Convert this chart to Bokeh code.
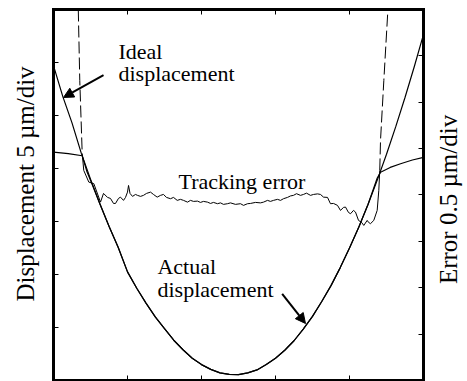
from bokeh.plotting import figure
from bokeh.models import Range1d, LinearAxis, FixedTicker, Label, Arrow, NormalHead
from bokeh.embed import file_html
from bokeh.resources import INLINE

# Horizontal position, in divisions (5 divisions across)
ideal_x = [0.0, 0.125, 0.25, 0.375, 0.5, 0.625, 0.75, 0.875, 1.0, 1.125, 1.25, 1.375,
           1.5, 1.625, 1.75, 1.875, 2.0, 2.125, 2.25, 2.375, 2.5, 2.625, 2.75, 2.875,
           3.0, 3.125, 3.25, 3.375, 3.5, 3.625, 3.75, 3.875, 4.0, 4.125, 4.25, 4.375,
           4.5, 4.625, 4.75, 4.875, 5.0]
# Ideal displacement, um
ideal_um = [29.7, 26.8, 24.3, 21.45, 19.0, 16.7, 14.55, 12.55, 10.25, 8.7, 7.3, 6.0,
            4.9, 3.8, 2.9, 2.1, 1.5, 1.05, 0.72, 0.57, 0.55, 0.72, 1.0, 1.5,
            2.1, 2.85, 3.75, 4.85, 6.05, 7.45, 8.95, 10.65, 12.5, 14.45, 16.6, 18.9,
            21.35, 23.95, 26.7, 29.6, 32.65]

# Actual displacement, um (saturates at both ends)
actual_x = [0.0, 0.2, 0.388, 0.45, 0.5, 0.625, 0.75, 0.875, 1.0, 1.125, 1.25, 1.375,
            1.5, 1.625, 1.75, 1.875, 2.0, 2.125, 2.25, 2.375, 2.5, 2.625, 2.75, 2.875,
            3.0, 3.125, 3.25, 3.375, 3.5, 3.625, 3.75, 3.875, 4.0, 4.125, 4.25, 4.375,
            4.42, 4.55, 4.69, 4.85, 5.0]
actual_um = [21.55, 21.4, 21.2, 19.75, 18.9, 16.7, 14.55, 12.55, 10.25, 8.7, 7.3, 6.0,
             4.9, 3.8, 2.9, 2.1, 1.5, 1.05, 0.72, 0.57, 0.55, 0.72, 1.0, 1.5,
             2.1, 2.85, 3.75, 4.85, 6.05, 7.45, 8.95, 10.65, 12.5, 14.45, 16.6, 19.1,
             19.65, 20.1, 20.45, 20.8, 21.05]

# Tracking error, um (right-hand scale)
error_x = [0.335, 0.355, 0.388, 0.409, 0.477, 0.545, 0.635, 0.676, 0.730, 0.770, 0.811,
           0.838, 0.878, 0.905, 0.946, 0.973, 1.000, 1.014, 1.034, 1.068, 1.108, 1.135,
           1.176, 1.216, 1.257, 1.311, 1.351, 1.401, 1.446, 1.486, 1.527, 1.581, 1.622,
           1.672, 1.716, 1.757, 1.811, 1.851, 1.892, 1.946, 1.986, 2.027, 2.081, 2.122,
           2.162, 2.216, 2.257, 2.297, 2.351, 2.392, 2.459, 2.527, 2.568, 2.622, 2.662,
           2.730, 2.797, 2.838, 2.892, 2.932, 2.973, 3.027, 3.068, 3.108, 3.162, 3.203,
           3.243, 3.284, 3.338, 3.378, 3.419, 3.473, 3.514, 3.568, 3.608, 3.649, 3.703,
           3.743, 3.784, 3.838, 3.878, 3.919, 3.946, 3.986, 4.014, 4.054, 4.081, 4.122,
           4.162, 4.193, 4.239, 4.257, 4.284, 4.328, 4.374, 4.396, 4.409, 4.419, 4.464,
           4.519]
error_um = [2.0, 1.235, 0.448, 0.265, 0.139, 0.122, -0.077, 0.017, -0.026, -0.037, -0.091,
            -0.091, -0.037, -0.023, -0.058, -0.026, 0.031, 0.103, 0.017, -0.015, 0.006, -0.004,
            -0.015, -0.004, 0.017, 0.031, 0.006, -0.023, -0.004, 0.006, -0.026, -0.040, -0.026,
            -0.058, -0.047, -0.058, -0.077, -0.058, -0.069, -0.066, -0.080, -0.069, -0.077, -0.091,
            -0.080, -0.094, -0.085, -0.101, -0.094, -0.085, -0.101, -0.094, -0.112, -0.094, -0.091,
            -0.080, -0.085, -0.077, -0.058, -0.069, -0.058, -0.047, -0.058, -0.040, -0.026, -0.010,
            -0.004, 0.014, -0.004, 0.006, 0.020, -0.004, 0.006, 0.012, 0.006, -0.023, -0.026,
            -0.094, -0.091, -0.112, -0.166, -0.134, -0.130, -0.188, -0.202, -0.166, -0.184, -0.274,
            -0.295, -0.328, -0.274, -0.295, -0.309, -0.274, -0.166, 0.050, 0.265, 0.588, 1.235,
            2.0]

x_ticks = [1, 2, 3, 4]
disp_ticks = [5, 10, 15, 20, 25, 30]
err_ticks = [-1.5, -1.0, -0.5, 0.0, 0.5, 1.0, 1.5]

SERIF = "Liberation Serif"

# The canvas is the whole frame; the plot box (x 0..5, 0..35 um) is drawn by the
# four axes pinned to its edges, so the side titles sit inside the canvas.
p = figure(width=467, height=381, output_backend="svg", toolbar_location=None,
           x_range=Range1d(-0.7162, 5.5946), y_range=Range1d(-0.0943, 35.849),
           x_axis_location=None, y_axis_location=None,
           min_border=0, min_border_left=0, min_border_right=0,
           min_border_top=0, min_border_bottom=0)
p.extra_y_ranges = {"err": Range1d(-2.0108, 2.0970)}
p.grid.visible = False
p.outline_line_color = None
p.background_fill_color = "white"
p.border_fill_color = "white"


def box_axis(ax, ticks, bounds):
    ax.ticker = FixedTicker(ticks=ticks)
    ax.bounds = bounds
    ax.major_tick_in = 5
    ax.major_tick_out = 0
    ax.minor_tick_in = 0
    ax.minor_tick_out = 0
    ax.major_label_text_color = None
    ax.major_label_standoff = 0
    ax.axis_line_color = "black"
    ax.axis_line_width = 3
    ax.axis_line_cap = "square"
    ax.major_tick_line_color = "black"
    ax.major_tick_line_width = 1
    return ax


p.add_layout(box_axis(LinearAxis(fixed_location=0), x_ticks, (0, 5)), "below")
p.add_layout(box_axis(LinearAxis(fixed_location=35), x_ticks, (0, 5)), "above")
p.add_layout(box_axis(LinearAxis(fixed_location=0), disp_ticks, (0, 35)), "left")
p.add_layout(box_axis(LinearAxis(fixed_location=5, y_range_name="err"),
                      err_ticks, (-2, 2)), "right")

# curves
p.line(ideal_x, ideal_um, line_color="black", line_width=1.2)
p.line(actual_x, actual_um, line_color="black", line_width=1.2)

# tracking error: steep edges drawn dashed, flat middle solid
lo, hi = 2, len(error_x) - 4
p.line(error_x[:lo + 1], error_um[:lo + 1], y_range_name="err",
       line_color="black", line_width=1, line_dash="12 4")
p.line(error_x[lo:hi + 1], error_um[lo:hi + 1], y_range_name="err",
       line_color="black", line_width=1)
p.line(error_x[hi:], error_um[hi:], y_range_name="err",
       line_color="black", line_width=1, line_dash="12 4")


def note(x, y, text, size="22px", angle=0):
    p.add_layout(Label(x=x, y=y, text=text, text_font=SERIF, text_font_size=size,
                       text_color="black", angle=angle, angle_units="deg",
                       text_baseline="alphabetic",
                       text_align="left" if angle == 0 else "center"))


note(0.878, 31.06, "Ideal")
note(0.878, 28.96, "displacement")
note(1.689, 18.76, "Tracking error")
note(1.405, 10.76, "Actual")
note(1.405, 8.58, "displacement")
note(-0.379, 18.54, "Displacement 5 µm/div", size="25px", angle=90)
note(5.338, 17.08, "Error 0.5 µm/div", size="25px", angle=90)

# arrows
for xs, ys, xe, ye in [(0.676, 28.8, 0.135, 26.7), (3.09, 8.18, 3.405, 5.38)]:
    p.add_layout(Arrow(x_start=xs, y_start=ys, x_end=xe, y_end=ye, line_width=2,
                       line_color="black",
                       end=NormalHead(size=10, fill_color="black", line_color="black")))

open("out.html", "w").write(file_html(p, INLINE))
